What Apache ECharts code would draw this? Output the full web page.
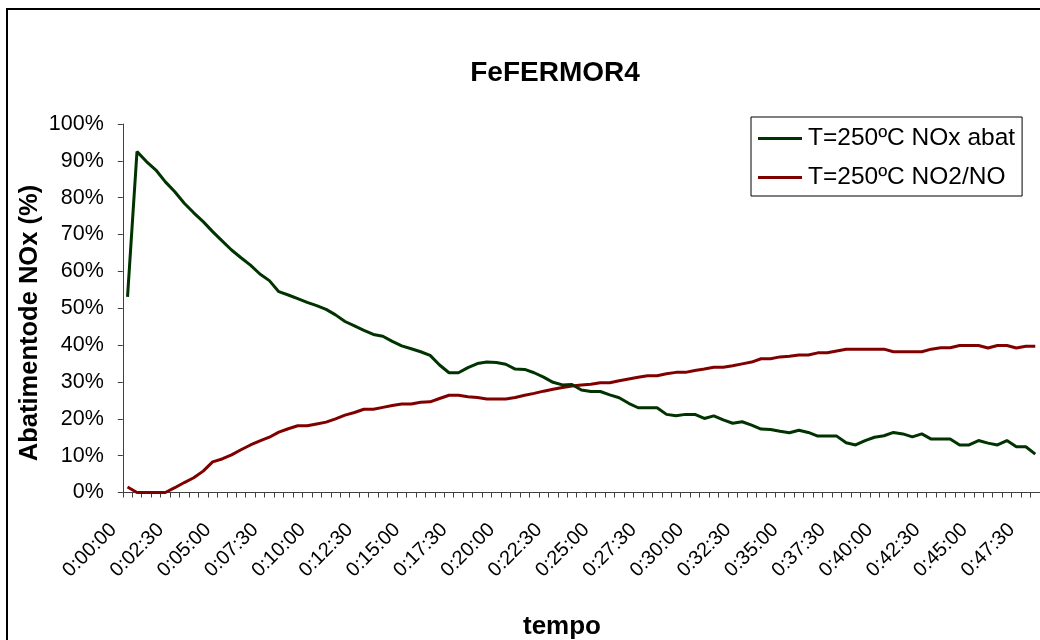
<!DOCTYPE html>
<html>
<head>
<meta charset="utf-8">
<title>FeFERMOR4</title>
<script src="https://cdn.jsdelivr.net/npm/echarts@6/dist/echarts.min.js"></script>
<style>
  html, body { margin: 0; padding: 0; background: #fff; }
  #chart { width: 1040px; height: 640px; }
</style>
</head>
<body>
<div id="chart"></div>
<script>
// Sampling times: one reading every 30 s, from 0:00:00 to 0:48:00
const sampleSeconds = [];
for (let s = 0; s <= 2880; s += 30) sampleSeconds.push(s);
const timeLabels = sampleSeconds.map(function (s) {
  const m = Math.floor(s / 60), sec = s % 60;
  return '0:' + String(m).padStart(2, '0') + ':' + String(sec).padStart(2, '0');
});

// NOx abatement at 250 °C (%)
const noxAbat = [
  53.1, 92.5, 89.8, 87.5, 84.3, 81.6, 78.5, 75.9, 73.5, 70.8,
  68.3, 65.8, 63.7, 61.7, 59.3, 57.5, 54.5, 53.6, 52.6, 51.6,
  50.7, 49.7, 48.2, 46.4, 45.2, 44.0, 42.9, 42.4, 41.0, 39.8,
  39.0, 38.2, 37.2, 34.6, 32.5, 32.5, 33.9, 35.0, 35.4, 35.3,
  34.8, 33.5, 33.4, 32.5, 31.3, 29.9, 29.2, 29.3, 27.8, 27.4,
  27.4, 26.5, 25.7, 24.2, 23.0, 23.0, 23.0, 21.2, 20.8, 21.2,
  21.2, 20.1, 20.8, 19.7, 18.8, 19.2, 18.3, 17.2, 17.1, 16.6,
  16.2, 16.9, 16.3, 15.3, 15.3, 15.3, 13.5, 12.9, 14.1, 15.0,
  15.4, 16.3, 15.9, 15.1, 15.9, 14.5, 14.5, 14.5, 12.9, 12.9,
  14.1, 13.4, 12.9, 14.1, 12.4, 12.4, 10.4
];

// NO2/NO ratio at 250 °C (%)
const no2no = [
  1.5, 0.0, 0.0, 0.0, 0.0, 1.3, 2.7, 4.0, 5.8, 8.3,
  9.1, 10.2, 11.6, 12.9, 14.0, 15.0, 16.4, 17.3, 18.1, 18.1,
  18.6, 19.1, 20.0, 21.0, 21.7, 22.6, 22.6, 23.1, 23.6, 24.0,
  24.0, 24.5, 24.6, 25.5, 26.4, 26.4, 26.0, 25.8, 25.4, 25.4,
  25.4, 25.8, 26.4, 26.9, 27.5, 28.0, 28.5, 28.9, 29.2, 29.4,
  29.8, 29.8, 30.3, 30.8, 31.3, 31.7, 31.7, 32.2, 32.6, 32.6,
  33.1, 33.5, 34.0, 34.0, 34.4, 34.9, 35.4, 36.3, 36.3, 36.8,
  37.0, 37.3, 37.3, 37.9, 37.9, 38.4, 38.9, 38.9, 38.9, 38.9,
  38.9, 38.2, 38.2, 38.2, 38.2, 38.9, 39.3, 39.3, 39.9, 39.9,
  39.9, 39.2, 39.9, 39.9, 39.2, 39.7, 39.7
];

const seriesNames = ['T=250ºC NOx abat', 'T=250ºC NO2/NO'];
const seriesColors = ['#003300', '#800000'];

const FONT = '"Liberation Sans", Arial, sans-serif';
const chart = echarts.init(document.getElementById('chart'), null, { renderer: 'canvas' });

chart.setOption({
  backgroundColor: '#ffffff',
  animation: false,
  textStyle: { fontFamily: FONT, color: '#000' },
  graphic: [
    {
      type: 'rect', z: 0, silent: true,
      shape: { x: 7, y: 9, width: 1100, height: 700 },
      style: { fill: 'none', stroke: '#000', lineWidth: 2 }
    },
    {
      type: 'text', x: 555, y: 73, z: 10,
      style: {
        text: 'FeFERMOR4', fontFamily: FONT, fontWeight: 'bold', fontSize: 28,
        fill: '#000', align: 'center', verticalAlign: 'middle'
      }
    },
    {
      type: 'text', x: 562, y: 627, z: 10,
      style: {
        text: 'tempo', fontFamily: FONT, fontWeight: 'bold', fontSize: 26,
        fill: '#000', align: 'center', verticalAlign: 'middle'
      }
    },
    {
      type: 'text', x: 30, y: 323, rotation: Math.PI / 2, z: 10,
      style: {
        text: 'Abatimentode NOx (%)', fontFamily: FONT, fontWeight: 'bold', fontSize: 25.5,
        fill: '#000', align: 'center', verticalAlign: 'middle'
      }
    }
  ],
  legend: {
    orient: 'vertical',
    left: 751, top: 117,
    padding: [9, 7, 6, 7],
    itemGap: 14,
    itemWidth: 44, itemHeight: 3,
    icon: 'rect',
    borderColor: '#000', borderWidth: 1,
    backgroundColor: '#fff',
    textStyle: { fontFamily: FONT, fontSize: 24.5, color: '#000', padding: [2, 0, 0, 1] },
    data: seriesNames
  },
  grid: { left: 122.8, top: 124, width: 920.5, height: 368.5, containLabel: false },
  xAxis: {
    type: 'category',
    data: timeLabels,
    boundaryGap: true,
    axisLine: { lineStyle: { color: '#404040', width: 1 } },
    axisTick: { show: true, interval: 0, length: 5, lineStyle: { color: '#404040' } },
    axisLabel: {
      interval: 4, rotate: 45, fontSize: 20, color: '#000', fontFamily: FONT,
      margin: 20, padding: [0, 20, 0, 0]
    },
    splitLine: { show: false }
  },
  yAxis: {
    type: 'value',
    min: 0, max: 100, interval: 10,
    axisLine: { show: true, lineStyle: { color: '#404040', width: 1 } },
    axisTick: { show: true, length: 5, lineStyle: { color: '#404040' } },
    axisLabel: { formatter: '{value}%', fontSize: 21.5, color: '#000', fontFamily: FONT, margin: 19 },
    splitLine: { show: false }
  },
  series: [
    {
      name: seriesNames[0], type: 'line', data: noxAbat,
      symbol: 'none', color: seriesColors[0],
      lineStyle: { width: 3, color: seriesColors[0] }, z: 3
    },
    {
      name: seriesNames[1], type: 'line', data: no2no,
      symbol: 'none', color: seriesColors[1],
      lineStyle: { width: 3, color: seriesColors[1] }, z: 2
    }
  ]
});
</script>
</body>
</html>
